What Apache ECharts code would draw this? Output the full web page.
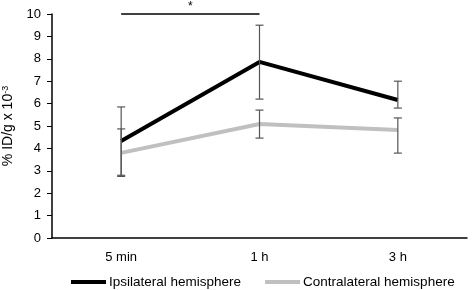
<!DOCTYPE html>
<html>
<head>
<meta charset="utf-8">
<script src="https://cdn.jsdelivr.net/npm/echarts@6/dist/echarts.min.js"></script>
<style>
  html, body { margin: 0; padding: 0; background: #fff; }
  #chart { width: 472px; height: 290px; }
</style>
</head>
<body>
<div id="chart"></div>
<script>
const categories = ['5 min', '1 h', '3 h']

const ipsiMean = [4.33, 7.86, 6.16]
const ipsiLow = [2.8, 6.2, 5.8]
const ipsiHigh = [5.85, 9.5, 7.0]

const contraMean = [3.8, 5.09, 4.82]
const contraLow = [2.75, 4.46, 3.79]
const contraHigh = [4.87, 5.71, 5.36]

const COLOR_IPSI = '#000000'
const COLOR_CONTRA = '#c0c0c0'
const COLOR_ERR = '#555555'
const FONT = 'Liberation Sans'

const chart = echarts.init(document.getElementById('chart'))

// error bars: [catIndex, low, high]
const errData = (low, high) => low.map((l, i) => [i, l, high[i]])

const errRender = (params, api) => {
  const x = api.value(0)
  const lo = api.coord([x, api.value(1)])
  const hi = api.coord([x, api.value(2)])
  const half = 4
  const style = { stroke: COLOR_ERR, lineWidth: 1.2 }
  return {
    type: 'group',
    children: [
      { type: 'line', shape: { x1: hi[0], y1: hi[1], x2: lo[0], y2: lo[1] }, style },
      { type: 'line', shape: { x1: hi[0] - half, y1: hi[1], x2: hi[0] + half, y2: hi[1] }, style },
      { type: 'line', shape: { x1: lo[0] - half, y1: lo[1], x2: lo[0] + half, y2: lo[1] }, style },
    ],
  }
}

chart.setOption({
  animation: false,
  textStyle: { fontFamily: FONT },
  grid: { left: 52, right: 5, top: 14, bottom: 52, outerBoundsMode: 'none' },
  legend: {
    bottom: 1,
    left: 71,
    width: 400,
    padding: 0,
    icon: 'rect',
    itemWidth: 35,
    itemHeight: 4,
    itemGap: 24,
    textStyle: { fontFamily: FONT, fontSize: 13.5, color: '#000', padding: [0, 0, 0, -2] },
    data: ['Ipsilateral hemisphere', 'Contralateral hemisphere'],
  },
  xAxis: {
    type: 'category',
    data: categories,
    boundaryGap: true,
    axisLine: { lineStyle: { color: '#000', width: 1.5 } },
    axisTick: { lineStyle: { color: '#000' }, length: 5 },
    axisLabel: { color: '#000', fontSize: 13, margin: 13 },
  },
  yAxis: {
    type: 'value',
    min: 0,
    max: 10,
    interval: 1,
    name: '% ID/g x 10{sup|-3}',
    nameLocation: 'middle',
    nameGap: 30,
    nameRotate: 90,
    nameTextStyle: {
      color: '#000',
      fontSize: 14,
      rich: { sup: { fontSize: 9, verticalAlign: 'top', padding: [0, 0, 6, 0] } },
    },
    axisLine: { show: true, lineStyle: { color: '#000', width: 1.5 } },
    axisTick: { show: true, lineStyle: { color: '#000' }, length: 5 },
    axisLabel: { color: '#000', fontSize: 13, margin: 11 },
    splitLine: { show: false },
  },
  series: [
    {
      name: 'Ipsilateral hemisphere',
      type: 'line',
      data: ipsiMean,
      symbol: 'none',
      color: COLOR_IPSI,
      lineStyle: { color: COLOR_IPSI, width: 4 },
      z: 3,
      markLine: {
        symbol: 'none',
        silent: true,
        lineStyle: { color: '#000', width: 1.5, type: 'solid' },
        label: {
          show: true,
          position: 'middle',
          formatter: '*',
          color: '#000',
          fontSize: 12,
          distance: 1,
        },
        data: [[{ coord: ['5 min', 10] }, { coord: ['1 h', 10] }]],
      },
    },
    {
      name: 'Contralateral hemisphere',
      type: 'line',
      data: contraMean,
      symbol: 'none',
      color: COLOR_CONTRA,
      lineStyle: { color: COLOR_CONTRA, width: 4 },
      z: 2,
    },
    {
      type: 'custom',
      renderItem: errRender,
      data: errData(ipsiLow, ipsiHigh),
      z: 5,
    },
    {
      type: 'custom',
      renderItem: errRender,
      data: errData(contraLow, contraHigh),
      z: 5,
    },
  ],
})
</script>
</body>
</html>
